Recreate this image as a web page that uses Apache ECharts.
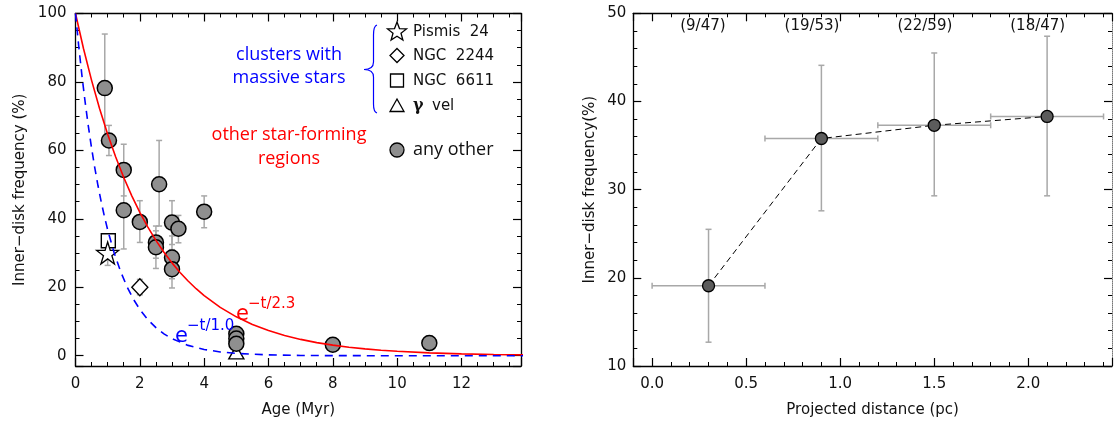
<!DOCTYPE html>
<html><head><meta charset="utf-8">
<script src="https://cdn.jsdelivr.net/npm/echarts@6/dist/echarts.min.js"></script>
<style>html,body{margin:0;padding:0;background:#fff}#c{width:1115px;height:423px}</style>
</head><body><div id="c"></div>
<script>
// ---------- Left panel: inner-disk frequency vs age ----------
const otherAge     = [0.91, 1.04, 1.5, 1.5, 2.0, 2.5, 2.5, 2.6, 3.0, 3.0, 3.0, 3.2, 4.0, 5.0, 5.0, 5.0, 8.0, 11.0];
const otherFreq    = [78.2, 62.9, 54.3, 42.5, 39.1, 33.1, 31.7, 50.1, 38.9, 28.7, 25.3, 37.1, 42.1, 6.4, 5.0, 3.5, 3.2, 3.7];
const otherErrLow  = [62.5, 58.5, 46.7, 31.2, 33.1, 28.5, 25.5, 37.9, 32.5, 22.5, 19.8, 33.0, 37.4, 5.0, 3.8, 2.5, 2.0, 3.2];
const otherErrHigh = [94.0, 67.3, 61.8, 53.8, 45.3, 37.9, 36.5, 62.9, 45.3, 35.0, 31.0, 41.0, 46.7, 8.0, 6.2, 4.5, 4.8, 4.2];

const pismisAge = [1.0],  pismisFreq = [30.0], pismisLow = [26.4], pismisHigh = [33.2];
const ngc2244Age = [2.0], ngc2244Freq = [20.0], ngc2244Low = [17.8], ngc2244High = [22.3];
const ngc6611Age = [1.02], ngc6611Freq = [33.6];
const gvelAge = [5.0], gvelFreq = [1.0];

// model curves (e^-t/2.3 and e^-t/1.0), in %
const redCurveT  = [0, 0.25, 0.5, 0.75, 1, 1.25, 1.5, 1.75, 2, 2.25, 2.5, 2.75, 3, 3.25, 3.5, 3.75, 4, 4.5, 5, 5.5, 6, 6.5, 7, 7.5, 8, 8.5, 9, 9.5, 10, 11, 12, 13, 14];
const redCurveV  = [100, 89.7, 80.46, 72.17, 64.74, 58.07, 52.09, 46.72, 41.91, 37.59, 33.72, 30.25, 27.13, 24.34, 21.83, 19.58, 17.56, 14.14, 11.37, 9.15, 7.36, 5.93, 4.77, 3.84, 3.09, 2.48, 2.0, 1.61, 1.29, 0.84, 0.54, 0.35, 0.23];
const blueCurveT = [0, 0.1, 0.2, 0.3, 0.4, 0.5, 0.6, 0.7, 0.8, 0.9, 1.0, 1.2, 1.4, 1.6, 1.8, 2.0, 2.25, 2.5, 2.75, 3.0, 3.5, 4.0, 4.5, 5.0, 6, 7, 8, 10, 14];
const blueCurveV = [100, 90.48, 81.87, 74.08, 67.03, 60.65, 54.88, 49.66, 44.93, 40.66, 36.79, 30.12, 24.66, 20.19, 16.53, 13.53, 10.54, 8.21, 6.39, 4.98, 3.02, 1.83, 1.11, 0.67, 0.25, 0.09, 0.03, 0.005, 0];

// ---------- Right panel: frequency vs projected distance ----------
const distCenter = [0.3, 0.9, 1.5, 2.1];
const distLow    = [0.0, 0.6, 1.2, 1.8];
const distHigh   = [0.6, 1.2, 1.8, 2.4];
const distFreq   = [19.1, 35.8, 37.3, 38.3];
const distFreqLow  = [12.7, 27.6, 29.3, 29.3];
const distFreqHigh = [25.5, 44.1, 45.5, 47.4];
const countLabels  = ['(9/47)', '(19/53)', '(22/59)', '(18/47)'];
const countLabelX  = [0.27, 0.85, 1.45, 2.05];
const countLabelY  = 48.5;

const leftXTicks = [0, 2, 4, 6, 8, 10, 12];

const IDL = 'DejaVu Sans';
const errColor = '#a8a8a8';

function vErr(params, api) {
  const x = api.value(0), lo = api.value(1), hi = api.value(2);
  const a = api.coord([x, lo]), b = api.coord([x, hi]);
  const c = 3;
  return { type: 'group', children: [
    { type: 'line', shape: { x1: a[0], y1: a[1], x2: b[0], y2: b[1] }, style: { stroke: errColor, lineWidth: 1.5 } },
    { type: 'line', shape: { x1: a[0] - c, y1: a[1], x2: a[0] + c, y2: a[1] }, style: { stroke: errColor, lineWidth: 1.5 } },
    { type: 'line', shape: { x1: b[0] - c, y1: b[1], x2: b[0] + c, y2: b[1] }, style: { stroke: errColor, lineWidth: 1.5 } }
  ]};
}
function hErr(params, api) {
  const lo = api.value(0), hi = api.value(1), y = api.value(2);
  const a = api.coord([lo, y]), b = api.coord([hi, y]);
  const c = 3;
  return { type: 'group', children: [
    { type: 'line', shape: { x1: a[0], y1: a[1], x2: b[0], y2: b[1] }, style: { stroke: errColor, lineWidth: 1.5 } },
    { type: 'line', shape: { x1: a[0], y1: a[1] - c, x2: a[0], y2: a[1] + c }, style: { stroke: errColor, lineWidth: 1.5 } },
    { type: 'line', shape: { x1: b[0], y1: b[1] - c, x2: b[0], y2: b[1] + c }, style: { stroke: errColor, lineWidth: 1.5 } }
  ]};
}
function countText(params, api) {
  const p = api.coord([api.value(0), api.value(1)]);
  return { type: 'text', style: { x: p[0], y: p[1], text: countLabels[params.dataIndex], fill: '#111',
    font: '15px "DejaVu Sans"', align: 'center', verticalAlign: 'middle' } };
}

const zip = (a, b) => a.map((v, i) => [v, b[i]]);
const zip3 = (a, b, c) => a.map((v, i) => [v, b[i], c[i]]);

const starPath = 'path://M50,2 L61.2,36.5 L97.6,36.5 L68.2,57.9 L79.4,92.5 L50,71.1 L20.6,92.5 L31.8,57.9 L2.4,36.5 L38.8,36.5 Z';

function starPoints(cx, cy, R, r) {
  const pts = [];
  for (let k = 0; k < 10; k++) {
    const ang = -Math.PI / 2 + k * Math.PI / 5;
    const rad = k % 2 === 0 ? R : r;
    pts.push([cx + rad * Math.cos(ang), cy + rad * Math.sin(ang)]);
  }
  return pts;
}

function mkAxis(base) {
  return Object.assign({
    type: 'value', splitLine: { show: false },
    axisLine: { show: true, onZero: false, lineStyle: { color: '#000', width: 1.3 } },
    axisTick: { show: true, inside: true, length: 8, lineStyle: { color: '#000', width: 1.2 } },
    minorTick: { show: true, length: 4, lineStyle: { color: '#000', width: 1 } },
    axisLabel: { show: false },
    nameTextStyle: { fontFamily: IDL, fontSize: 15, color: '#111' }
  }, base);
}

const chart = echarts.init(document.getElementById('c'), null, { renderer: 'canvas' });
const labelStyle = { show: true, fontFamily: IDL, fontSize: 15, color: '#111', margin: 11 };
const braceStyle = { stroke: '#0000ff', lineWidth: 1.2, fill: null };
const minor4 = { show: true, splitNumber: 4, length: 4, lineStyle: { color: '#000', width: 1 } };
const minor5 = { show: true, splitNumber: 5, length: 4, lineStyle: { color: '#000', width: 1 } };

const option = {
  animation: false,
  backgroundColor: '#fff',
  grid: [
    { left: 75.5, top: 13.5, width: 445.5, height: 359.2 },
    { left: 633.3, top: 13.3, width: 480.2, height: 359.4 }
  ],
  xAxis: [
    mkAxis({ gridIndex: 0, position: 'bottom', min: 0, max: 13.85, interval: 2, minorTick: minor4,
      axisLabel: Object.assign({}, labelStyle, { formatter: v => leftXTicks.indexOf(v) >= 0 ? String(v) : '' }),
      name: 'Age (Myr)', nameLocation: 'middle', nameGap: 37 }),
    mkAxis({ gridIndex: 0, position: 'top', min: 0, max: 13.85, interval: 2, minorTick: minor4 }),
    mkAxis({ gridIndex: 1, position: 'bottom', min: -0.1, max: 2.445, splitNumber: 5, minorTick: minor5,
      axisLabel: Object.assign({}, labelStyle, { formatter: v => (v >= 0 && Math.abs(v * 2 - Math.round(v * 2)) < 1e-6) ? v.toFixed(1) : '' }),
      name: 'Projected distance (pc)', nameLocation: 'middle', nameGap: 37 }),
    mkAxis({ gridIndex: 1, position: 'top', min: -0.1, max: 2.445, splitNumber: 5, minorTick: minor5 })
  ],
  yAxis: [
    mkAxis({ gridIndex: 0, position: 'left', min: -3, max: 100, splitNumber: 5, minorTick: minor4,
      axisLabel: Object.assign({}, labelStyle, { margin: 9, formatter: v => (v >= 0 && v % 20 === 0) ? String(v) : '' }),
      name: 'Inner\u2212disk frequency (%)', nameLocation: 'middle', nameGap: 48 }),
    mkAxis({ gridIndex: 0, position: 'right', min: -3, max: 100, splitNumber: 5, minorTick: minor4 }),
    mkAxis({ gridIndex: 1, position: 'left', min: 10, max: 50, interval: 10, minorTick: minor5,
      axisLabel: Object.assign({}, labelStyle, { margin: 7 }),
      name: 'Inner\u2212disk frequency(%)', nameLocation: 'middle', nameGap: 36 }),
    mkAxis({ gridIndex: 1, position: 'right', min: 10, max: 50, interval: 10, minorTick: minor5,
      axisLine: { show: true, onZero: false, lineStyle: { color: '#777', width: 1, type: 'dotted' } } })
  ],
  series: [
    { type: 'custom', xAxisIndex: 0, yAxisIndex: 0, renderItem: vErr, z: 2,
      data: zip3(otherAge, otherErrLow, otherErrHigh).concat(zip3(pismisAge, pismisLow, pismisHigh), zip3(ngc2244Age, ngc2244Low, ngc2244High)),
      encode: { x: 0, y: [1, 2] } },
    { type: 'scatter', name: 'any other', xAxisIndex: 0, yAxisIndex: 0, z: 3,
      symbol: 'circle', symbolSize: 15, data: zip(otherAge, otherFreq),
      itemStyle: { color: '#8f8f8f', borderColor: '#000', borderWidth: 1.5, opacity: 1 } },
    { type: 'scatter', name: 'NGC 6611', xAxisIndex: 0, yAxisIndex: 0, z: 4,
      symbol: 'rect', symbolSize: 14, data: zip(ngc6611Age, ngc6611Freq),
      itemStyle: { color: '#fff', borderColor: '#000', borderWidth: 1.4, opacity: 1 } },
    { type: 'scatter', name: 'Pismis 24', xAxisIndex: 0, yAxisIndex: 0, z: 4,
      symbol: starPath, symbolSize: 22, data: zip(pismisAge, pismisFreq),
      itemStyle: { color: '#fff', borderColor: '#000', borderWidth: 1.3, opacity: 1 } },
    { type: 'scatter', name: 'NGC 2244', xAxisIndex: 0, yAxisIndex: 0, z: 4,
      symbol: 'diamond', symbolSize: [16, 17], data: zip(ngc2244Age, ngc2244Freq),
      itemStyle: { color: '#fff', borderColor: '#000', borderWidth: 1.4, opacity: 1 } },
    { type: 'scatter', name: 'gamma vel', xAxisIndex: 0, yAxisIndex: 0, z: 2.5,
      symbol: 'triangle', symbolSize: [15, 13], data: zip(gvelAge, gvelFreq),
      itemStyle: { color: '#fff', borderColor: '#000', borderWidth: 1.4, opacity: 1 } },
    { type: 'line', name: 'e^-t/2.3', xAxisIndex: 0, yAxisIndex: 0, z: 5,
      data: zip(redCurveT, redCurveV), smooth: false, showSymbol: false, symbol: 'none',
      lineStyle: { color: '#ff0000', width: 1.6 } },
    { type: 'line', name: 'e^-t/1.0', xAxisIndex: 0, yAxisIndex: 0, z: 5,
      data: zip(blueCurveT, blueCurveV), smooth: false, showSymbol: false, symbol: 'none',
      lineStyle: { color: '#0000ff', width: 1.6, type: [8, 6] } },
    { type: 'custom', xAxisIndex: 2, yAxisIndex: 2, renderItem: vErr, z: 2,
      data: zip3(distCenter, distFreqLow, distFreqHigh), encode: { x: 0, y: [1, 2] } },
    { type: 'custom', xAxisIndex: 2, yAxisIndex: 2, renderItem: hErr, z: 2,
      data: zip3(distLow, distHigh, distFreq), encode: { x: [0, 1], y: 2 } },
    { type: 'line', xAxisIndex: 2, yAxisIndex: 2, z: 3,
      data: zip(distCenter, distFreq), showSymbol: false, symbol: 'none',
      lineStyle: { color: '#000', width: 1, type: [6, 4] } },
    { type: 'scatter', xAxisIndex: 2, yAxisIndex: 2, z: 4,
      symbol: 'circle', symbolSize: 12, data: zip(distCenter, distFreq),
      itemStyle: { color: '#5c5c5c', borderColor: '#000', borderWidth: 1.3, opacity: 1 } },
    { type: 'custom', xAxisIndex: 2, yAxisIndex: 2, z: 4, silent: true, renderItem: countText,
      data: countLabelX.map(x => [x, countLabelY]), encode: { x: 0, y: 1 } }
  ],
  graphic: [
    // brace
    { type: 'bezierCurve', z: 10, shape: { x1: 377, y1: 25, cpx1: 373.5, cpy1: 26, x2: 373.5, y2: 35 }, style: braceStyle },
    { type: 'line', z: 10, shape: { x1: 373.5, y1: 35, x2: 373.5, y2: 62 }, style: braceStyle },
    { type: 'bezierCurve', z: 10, shape: { x1: 373.5, y1: 62, cpx1: 373.5, cpy1: 69.5, x2: 364, y2: 69.5 }, style: braceStyle },
    { type: 'bezierCurve', z: 10, shape: { x1: 364, y1: 69.5, cpx1: 373.5, cpy1: 69.5, x2: 373.5, y2: 77 }, style: braceStyle },
    { type: 'line', z: 10, shape: { x1: 373.5, y1: 77, x2: 373.5, y2: 104 }, style: braceStyle },
    { type: 'bezierCurve', z: 10, shape: { x1: 373.5, y1: 104, cpx1: 373.5, cpy1: 112, x2: 377, y2: 113 }, style: braceStyle },
    { type: 'text', z: 10, style: { x: 289, y: 55, text: 'clusters with', fill: '#0000ff', font: '18px "Open Sans"', align: 'center', verticalAlign: 'middle' } },
    { type: 'text', z: 10, style: { x: 289, y: 78, text: 'massive stars', fill: '#0000ff', font: '18px "Open Sans"', align: 'center', verticalAlign: 'middle' } },
    { type: 'text', z: 10, style: { x: 289, y: 135, text: 'other star-forming', fill: '#ff0000', font: '18px "Open Sans"', align: 'center', verticalAlign: 'middle' } },
    { type: 'text', z: 10, style: { x: 289, y: 159, text: 'regions', fill: '#ff0000', font: '18px "Open Sans"', align: 'center', verticalAlign: 'middle' } },
    // legend markers
    { type: 'polygon', z: 10, shape: { points: starPoints(397, 32, 10, 4.2) }, style: { fill: '#fff', stroke: '#000', lineWidth: 1.3 } },
    { type: 'polygon', z: 10, shape: { points: [[397, 48.5], [404, 55.5], [397, 62.5], [390, 55.5]] }, style: { fill: '#fff', stroke: '#000', lineWidth: 1.3 } },
    { type: 'rect', z: 10, shape: { x: 390.5, y: 74, width: 13, height: 13 }, style: { fill: '#fff', stroke: '#000', lineWidth: 1.3 } },
    { type: 'polygon', z: 10, shape: { points: [[397, 99], [404, 111.5], [390, 111.5]] }, style: { fill: '#fff', stroke: '#000', lineWidth: 1.3 } },
    { type: 'circle', z: 10, shape: { cx: 397, cy: 150, r: 7 }, style: { fill: '#8f8f8f', stroke: '#000', lineWidth: 1.3 } },
    { type: 'text', z: 10, style: { x: 413, y: 32, text: 'Pismis  24', fill: '#111', font: '15px "DejaVu Sans"', verticalAlign: 'middle' } },
    { type: 'text', z: 10, style: { x: 413, y: 56, text: 'NGC  2244', fill: '#111', font: '15px "DejaVu Sans"', verticalAlign: 'middle' } },
    { type: 'text', z: 10, style: { x: 413, y: 81, text: 'NGC  6611', fill: '#111', font: '15px "DejaVu Sans"', verticalAlign: 'middle' } },
    { type: 'text', z: 10, style: { x: 413, y: 106, text: '\u03b3', fill: '#111', font: 'bold 16px "DejaVu Serif"', verticalAlign: 'middle' } },
    { type: 'text', z: 10, style: { x: 432, y: 106, text: 'vel', fill: '#111', font: '15px "DejaVu Sans"', verticalAlign: 'middle' } },
    { type: 'text', z: 10, style: { x: 413, y: 150, text: 'any other', fill: '#111', font: '18px "Open Sans"', verticalAlign: 'middle' } },
    // curve labels
    { type: 'text', z: 10, style: { x: 236, y: 315, text: 'e', fill: '#ff0000', font: '21px "DejaVu Sans"', verticalAlign: 'middle' } },
    { type: 'text', z: 10, style: { x: 248, y: 304, text: '\u2212t/2.3', fill: '#ff0000', font: '15px "DejaVu Sans"', verticalAlign: 'middle' } },
    { type: 'text', z: 10, style: { x: 175, y: 337, text: 'e', fill: '#0000ff', font: '21px "DejaVu Sans"', verticalAlign: 'middle' } },
    { type: 'text', z: 10, style: { x: 187, y: 326, text: '\u2212t/1.0', fill: '#0000ff', font: '15px "DejaVu Sans"', verticalAlign: 'middle' } }
  ]
};
chart.setOption(option);
</script>
</body></html>
